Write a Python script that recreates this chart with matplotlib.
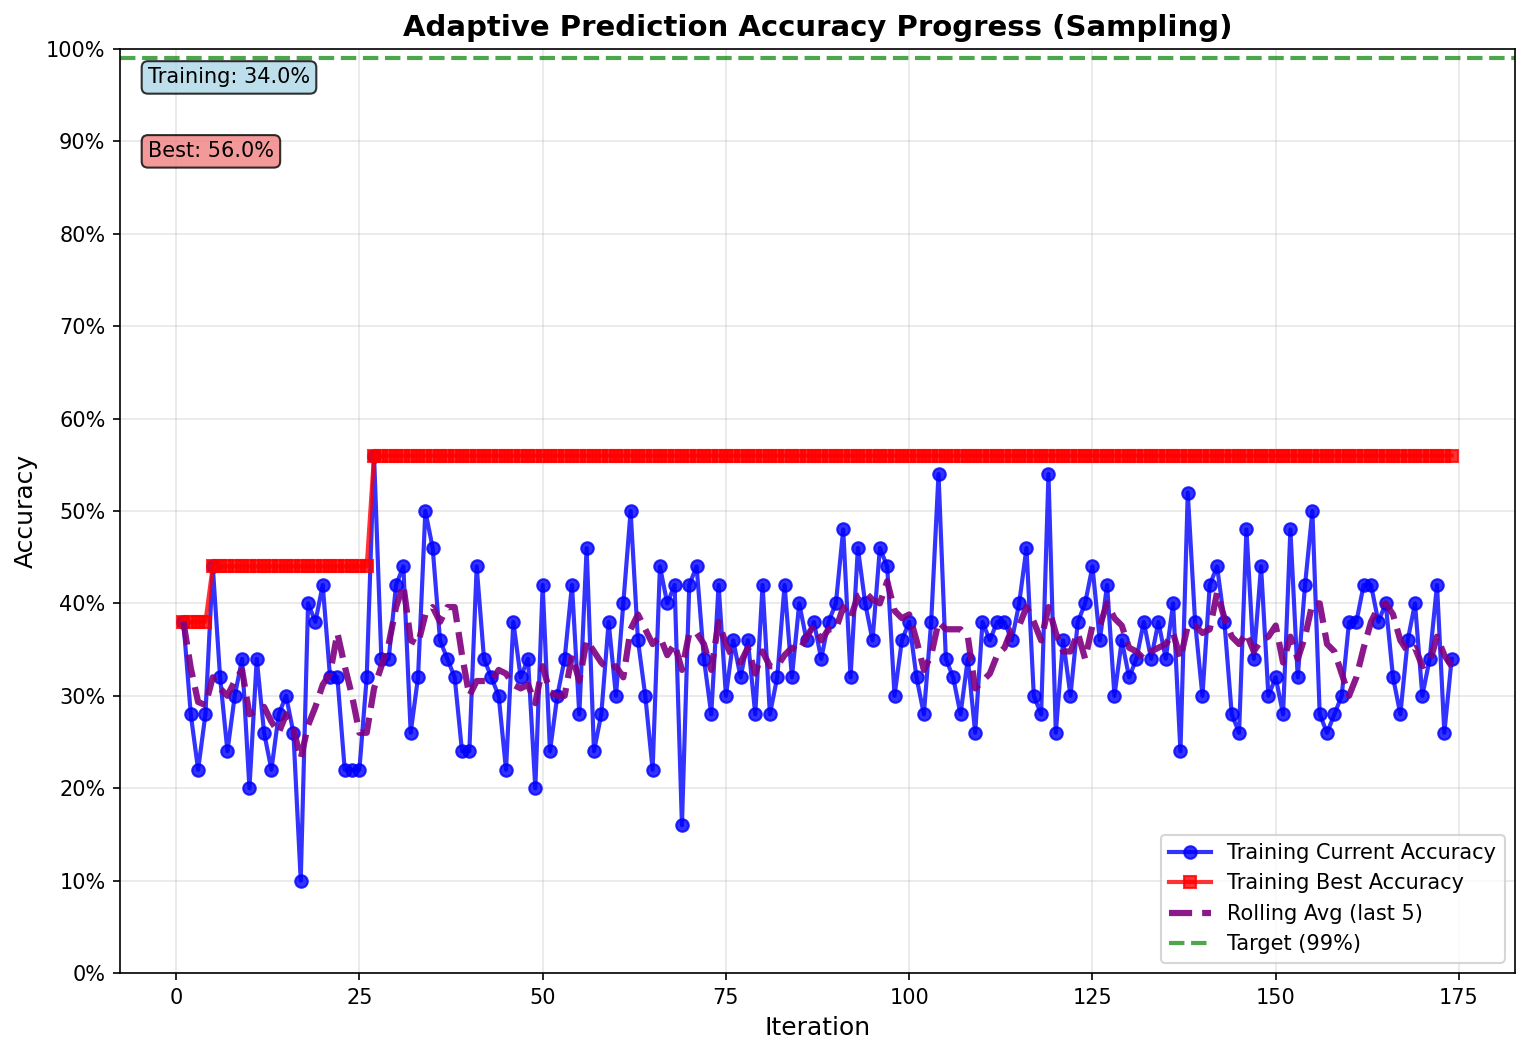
import numpy as np
import pandas as pd
import matplotlib
matplotlib.use("Agg")
import matplotlib.pyplot as plt
from matplotlib.ticker import PercentFormatter

# 每轮迭代的当前准确率 (%)
current_acc = [
    38, 28, 22, 28, 44, 32, 24, 30, 34, 20,
    34, 26, 22, 28, 30, 26, 10, 40, 38, 42,
    32, 32, 22, 22, 22, 32, 56, 34, 34, 42,
    44, 26, 32, 50, 46, 36, 34, 32, 24, 24,
    44, 34, 32, 30, 22, 38, 32, 34, 20, 42,
    24, 30, 34, 42, 28, 46, 24, 28, 38, 30,
    40, 50, 36, 30, 22, 44, 40, 42, 16, 42,
    44, 34, 28, 42, 30, 36, 32, 36, 28, 42,
    28, 32, 42, 32, 40, 36, 38, 34, 38, 40,
    48, 32, 46, 40, 36, 46, 44, 30, 36, 38,
    32, 28, 38, 54, 34, 32, 28, 34, 26, 38,
    36, 38, 38, 36, 40, 46, 30, 28, 54, 26,
    36, 30, 38, 40, 44, 36, 42, 30, 36, 32,
    34, 38, 34, 38, 34, 40, 24, 52, 38, 30,
    42, 44, 38, 28, 26, 48, 34, 44, 30, 32,
    28, 48, 32, 42, 50, 28, 26, 28, 30, 38,
    38, 42, 42, 38, 40, 32, 28, 36, 40, 30,
    34, 42, 26, 34,
]
target_acc = 99

acc = np.array(current_acc) / 100.0
iterations = np.arange(1, len(acc) + 1)
best_acc = np.maximum.accumulate(acc)  # 历史最佳
rolling = pd.Series(acc).rolling(window=5, min_periods=1).mean()

fig, ax = plt.subplots(figsize=(1531 / 150, 1055 / 150), dpi=150)
fig.subplots_adjust(left=0.0784, right=0.9896, bottom=0.0777, top=0.9536)

ax.plot(iterations, acc, 'o-', color='blue', linewidth=2, markersize=6,
        alpha=0.8, label='Training Current Accuracy')
ax.plot(iterations, best_acc, 's-', color='red', linewidth=2, markersize=6,
        alpha=0.8, label='Training Best Accuracy')
ax.plot(iterations, rolling, '--', color='purple', linewidth=3,
        alpha=0.9, label='Rolling Avg (last 5)')
ax.axhline(y=target_acc / 100, color='green', linestyle='--', linewidth=2,
           alpha=0.7, label=f'Target ({target_acc}%)')

# 文本框：当前 / 最佳
ax.text(0.02, 0.98, f'Training: {current_acc[-1]:.1f}%', transform=ax.transAxes,
        fontsize=10, va='top',
        bbox=dict(boxstyle='round', facecolor='lightblue', alpha=0.8))
ax.text(0.02, 0.90, f'Best: {max(current_acc):.1f}%', transform=ax.transAxes,
        fontsize=10, va='top',
        bbox=dict(boxstyle='round', facecolor='lightcoral', alpha=0.8))

ax.set_title('Adaptive Prediction Accuracy Progress (Sampling)',
             fontsize=14, fontweight='bold')
ax.set_xlabel('Iteration', fontsize=12)
ax.set_ylabel('Accuracy', fontsize=12)
ax.set_ylim(0, 1)
ax.yaxis.set_major_locator(plt.MultipleLocator(0.1))
ax.yaxis.set_major_formatter(PercentFormatter(1.0, decimals=0))
ax.grid(True, alpha=0.3)
ax.legend(loc='lower right')

fig.savefig('out.png', dpi=150)
